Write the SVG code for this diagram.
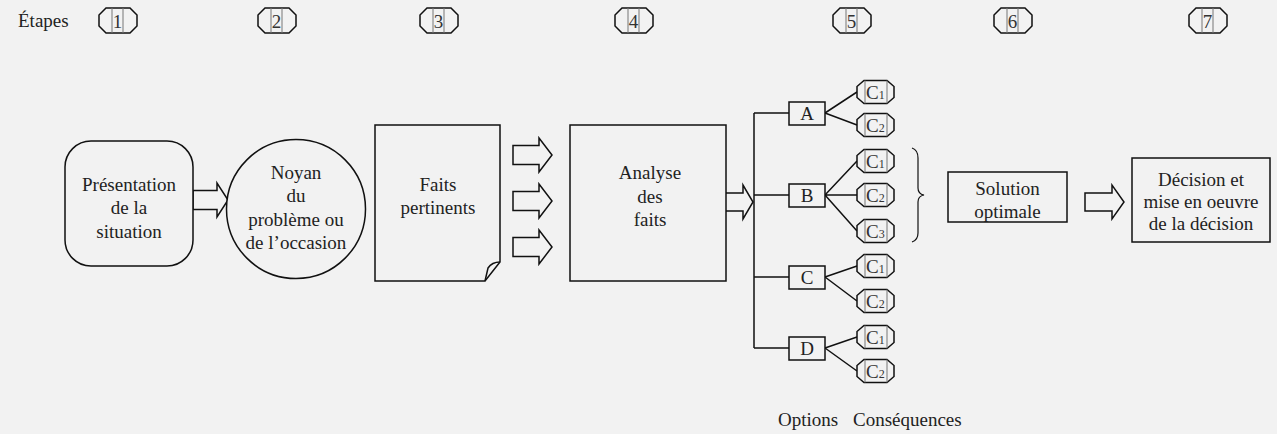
<svg xmlns="http://www.w3.org/2000/svg" width="1277" height="434" viewBox="0 0 1277 434">
<style>
.bg{fill:#f2f2f2}
.s{fill:none;stroke:#111;stroke-width:1.5}
.sf{fill:#f2f2f2;stroke:#111;stroke-width:1.5}
.in{stroke:#777;stroke-width:1}
.t{font-family:"Liberation Serif",serif;font-size:19px;fill:#222;text-anchor:middle}
.tl{font-family:"Liberation Serif",serif;font-size:19px;fill:#222}
.d{font-family:"Liberation Serif",serif;font-size:19px;fill:#333;text-anchor:middle}
.c{font-family:"Liberation Serif",serif;font-size:19px;fill:#333}
.sub{font-size:12px}
</style>
<rect class="bg" x="0" y="0" width="1277" height="434"/>
<text class="tl" x="18" y="27">Étapes</text>
<g id="steps">
<g id="step1"><polygon class="sf" points="106,8 130,8 137,15 137,26 130,33 106,33 99,26 99,15"/><line class="in" x1="112" y1="8" x2="112" y2="33"/><line class="in" x1="123" y1="8" x2="123" y2="33"/><text class="d" x="117.5" y="28">1</text></g>
<g id="step2"><polygon class="sf" points="265,8 289,8 296,15 296,26 289,33 265,33 258,26 258,15"/><line class="in" x1="271" y1="8" x2="271" y2="33"/><line class="in" x1="282" y1="8" x2="282" y2="33"/><text class="d" x="276.5" y="28">2</text></g>
<g id="step3"><polygon class="sf" points="427,8 451,8 458,15 458,26 451,33 427,33 420,26 420,15"/><line class="in" x1="433" y1="8" x2="433" y2="33"/><line class="in" x1="444" y1="8" x2="444" y2="33"/><text class="d" x="438.5" y="28">3</text></g>
<g id="step4"><polygon class="sf" points="622,8 646,8 653,15 653,26 646,33 622,33 615,26 615,15"/><line class="in" x1="628" y1="8" x2="628" y2="33"/><line class="in" x1="639" y1="8" x2="639" y2="33"/><text class="d" x="633.5" y="28">4</text></g>
<g id="step5"><polygon class="sf" points="840,8 864,8 871,15 871,26 864,33 840,33 833,26 833,15"/><line class="in" x1="846" y1="8" x2="846" y2="33"/><line class="in" x1="857" y1="8" x2="857" y2="33"/><text class="d" x="851.5" y="28">5</text></g>
<g id="step6"><polygon class="sf" points="1001,8 1025,8 1032,15 1032,26 1025,33 1001,33 994,26 994,15"/><line class="in" x1="1007" y1="8" x2="1007" y2="33"/><line class="in" x1="1018" y1="8" x2="1018" y2="33"/><text class="d" x="1012.5" y="28">6</text></g>
<g id="step7"><polygon class="sf" points="1196,8 1220,8 1227,15 1227,26 1220,33 1196,33 1189,26 1189,15"/><line class="in" x1="1202" y1="8" x2="1202" y2="33"/><line class="in" x1="1213" y1="8" x2="1213" y2="33"/><text class="d" x="1207.5" y="28">7</text></g>
</g>
<g id="connectors">
<polygon class="sf" points="193,190.5 217,190.5 217,183 228,200 217,217 217,209.5 193,209.5"/>
<polygon class="sf" points="513,145.5 539,145.5 539,138 552,155 539,172 539,164.5 513,164.5"/>
<polygon class="sf" points="513,191.5 539,191.5 539,184 552,201 539,218 539,210.5 513,210.5"/>
<polygon class="sf" points="513,237.5 539,237.5 539,230 552,247 539,264 539,256.5 513,256.5"/>
<polygon class="sf" points="721,193 743,193 743,185 753,202 743,219 743,211 721,211"/>
<polygon class="sf" points="1085,193 1112,193 1112,185 1124,202 1112,219 1112,211 1085,211"/>
<path class="s" d="M754,113 V348 M754,113 H789 M754,195 H789 M754,277 H789 M754,348 H789"/>
<path class="s" d="M825,113 L857,92 M825,113 L857,125 M825,195 L857,161 M825,195 L857,195 M825,195 L857,231 M825,277 L857,266 M825,277 L857,301 M825,348 L857,337 M825,348 L857,371"/>
<path fill="none" stroke="#111" stroke-width="1.2" d="M912,148 Q918,150 918,158 V188 Q918,194 924,195 Q918,196 918,202 V233 Q918,240 912,242"/>
</g>
<g id="presentation"><rect class="sf" x="65" y="141" width="128" height="125" rx="26"/><text class="t" x="129" y="191">Présentation</text><text class="t" x="129" y="214">de la</text><text class="t" x="129" y="238">situation</text></g>
<g id="noyau"><circle class="sf" cx="296" cy="209" r="69.5"/><text class="t" x="296" y="179">Noyan</text><text class="t" x="296" y="202">du</text><text class="t" x="296" y="226">problème ou</text><text class="t" x="296" y="249">de l’occasion</text></g>
<g id="faits"><path class="sf" d="M375,125 H500 V262 L485,281 H375 Z"/><path class="s" d="M500,262 Q492,262 488,268 L485,281"/><text class="t" x="438" y="191">Faits</text><text class="t" x="438" y="214">pertinents</text></g>
<g id="analyse"><rect class="sf" x="570" y="125" width="156" height="156"/><text class="t" x="650" y="179">Analyse</text><text class="t" x="650" y="203">des</text><text class="t" x="650" y="226">faits</text></g>
<g id="optA"><rect class="sf" x="789" y="102" width="36" height="23"/><text class="t" x="807" y="120">A</text></g>
<g id="optB"><rect class="sf" x="789" y="184" width="36" height="23"/><text class="t" x="807" y="202">B</text></g>
<g id="optC"><rect class="sf" x="789" y="266" width="36" height="23"/><text class="t" x="807" y="284">C</text></g>
<g id="optD"><rect class="sf" x="789" y="337" width="36" height="23"/><text class="t" x="807" y="355">D</text></g>
<g id="consA1"><polygon class="sf" points="864,80.5 887,80.5 894,86.5 894,97.5 887,103.5 864,103.5 857,97.5 857,86.5"/><line class="in" x1="865" y1="80.5" x2="865" y2="103.5"/><line class="in" x1="887" y1="80.5" x2="887" y2="103.5"/><text class="c" x="866" y="98.5">C<tspan class="sub">1</tspan></text></g>
<g id="consA2"><polygon class="sf" points="864,113.5 887,113.5 894,119.5 894,130.5 887,136.5 864,136.5 857,130.5 857,119.5"/><line class="in" x1="865" y1="113.5" x2="865" y2="136.5"/><line class="in" x1="887" y1="113.5" x2="887" y2="136.5"/><text class="c" x="866" y="131.5">C<tspan class="sub">2</tspan></text></g>
<g id="consB1"><polygon class="sf" points="864,149.5 887,149.5 894,155.5 894,166.5 887,172.5 864,172.5 857,166.5 857,155.5"/><line class="in" x1="865" y1="149.5" x2="865" y2="172.5"/><line class="in" x1="887" y1="149.5" x2="887" y2="172.5"/><text class="c" x="866" y="167.5">C<tspan class="sub">1</tspan></text></g>
<g id="consB2"><polygon class="sf" points="864,183.5 887,183.5 894,189.5 894,200.5 887,206.5 864,206.5 857,200.5 857,189.5"/><line class="in" x1="865" y1="183.5" x2="865" y2="206.5"/><line class="in" x1="887" y1="183.5" x2="887" y2="206.5"/><text class="c" x="866" y="201.5">C<tspan class="sub">2</tspan></text></g>
<g id="consB3"><polygon class="sf" points="864,219.5 887,219.5 894,225.5 894,236.5 887,242.5 864,242.5 857,236.5 857,225.5"/><line class="in" x1="865" y1="219.5" x2="865" y2="242.5"/><line class="in" x1="887" y1="219.5" x2="887" y2="242.5"/><text class="c" x="866" y="237.5">C<tspan class="sub">3</tspan></text></g>
<g id="consC1"><polygon class="sf" points="864,254.5 887,254.5 894,260.5 894,271.5 887,277.5 864,277.5 857,271.5 857,260.5"/><line class="in" x1="865" y1="254.5" x2="865" y2="277.5"/><line class="in" x1="887" y1="254.5" x2="887" y2="277.5"/><text class="c" x="866" y="272.5">C<tspan class="sub">1</tspan></text></g>
<g id="consC2"><polygon class="sf" points="864,289.5 887,289.5 894,295.5 894,306.5 887,312.5 864,312.5 857,306.5 857,295.5"/><line class="in" x1="865" y1="289.5" x2="865" y2="312.5"/><line class="in" x1="887" y1="289.5" x2="887" y2="312.5"/><text class="c" x="866" y="307.5">C<tspan class="sub">2</tspan></text></g>
<g id="consD1"><polygon class="sf" points="864,325.5 887,325.5 894,331.5 894,342.5 887,348.5 864,348.5 857,342.5 857,331.5"/><line class="in" x1="865" y1="325.5" x2="865" y2="348.5"/><line class="in" x1="887" y1="325.5" x2="887" y2="348.5"/><text class="c" x="866" y="343.5">C<tspan class="sub">1</tspan></text></g>
<g id="consD2"><polygon class="sf" points="864,359.5 887,359.5 894,365.5 894,376.5 887,382.5 864,382.5 857,376.5 857,365.5"/><line class="in" x1="865" y1="359.5" x2="865" y2="382.5"/><line class="in" x1="887" y1="359.5" x2="887" y2="382.5"/><text class="c" x="866" y="377.5">C<tspan class="sub">2</tspan></text></g>
<g id="solution"><rect class="sf" x="948" y="172" width="119" height="50"/><text class="t" x="1007.5" y="195">Solution</text><text class="t" x="1007.5" y="218">optimale</text></g>
<g id="decision"><rect class="sf" x="1132" y="158" width="138" height="84"/><text class="t" x="1201" y="186">Décision et</text><text class="t" x="1201" y="208">mise en oeuvre</text><text class="t" x="1201" y="230">de la décision</text></g>
<text class="tl" x="778" y="426">Options</text>
<text class="tl" x="853" y="426">Conséquences</text>
</svg>
